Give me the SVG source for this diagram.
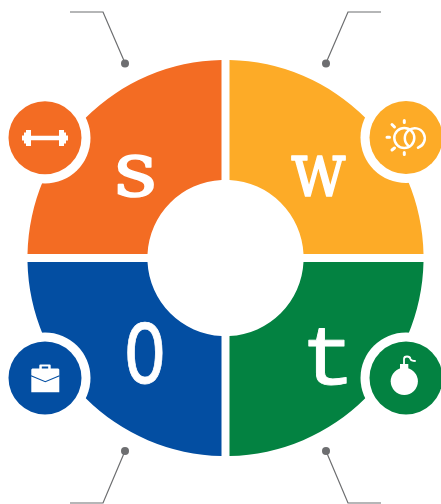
<svg xmlns="http://www.w3.org/2000/svg" width="441" height="504" viewBox="0 0 441 504">
<style>
.ring{fill:#fff}
.ln{fill:none;stroke:#6d6e70;stroke-width:1.2}
.dot{fill:#6d6e70}
.ic{fill:#fff}
.st{fill:none;stroke:#fff;stroke-linecap:round}
.let{fill:#fff;stroke:#fff;stroke-linejoin:round;text-anchor:middle}
.slab{font-family:"DejaVu Serif",serif}
.mono{font-family:"Liberation Mono","DejaVu Sans Mono",monospace}
</style>
<rect width="441" height="504" fill="#fff"/>
<g id="connectors">
<path class="ln" d="M70 12H103L125 63"/><circle class="dot" cx="125" cy="63.500" r="4"/>
<path class="ln" d="M381 12H348L326 63"/><circle class="dot" cx="326" cy="63.500" r="4"/>
<path class="ln" d="M70 503H103L125 451"/><circle class="dot" cx="125" cy="451" r="4"/>
<path class="ln" d="M381 503H348L326 451"/><circle class="dot" cx="326" cy="451" r="4"/>
</g>
<g id="node-s">
<path fill="#f36c23" d="M221.500 60A198 198 0 0 0 27.500 254H147.500A78 78 0 0 1 221.500 180Z"/>
<circle class="ring" cx="45" cy="138" r="45.500"/>
<circle fill="#f36c23" cx="45" cy="137.700" r="36.500"/>
<path class="ic" d="M22 135.500h2v-3h2v-2.500h5v5.800h28v-5.800h5v2.500h2v3h2v5h-2v3h-2v2.500h-5v-5.800H31v5.800h-5v-2.500h-2v-3h-2z"/>
<text class="let slab" transform="translate(135.500 196) scale(1.120 1)" font-size="76" stroke-width="1.500">s</text>
</g>
<g id="node-w">
<path fill="#fdab27" d="M229.500 60A198 198 0 0 1 423.500 254H303.500A78 78 0 0 0 229.500 180Z"/>
<circle class="ring" cx="406" cy="137.500" r="45.500"/>
<circle fill="#fdab27" cx="406" cy="137.500" r="36.500"/>
<circle class="st" cx="404.300" cy="138" r="10" stroke-width="2.500"/>
<path class="st" stroke-width="2.500" d="M408.500 146A10 10 0 1 1 418 147.700"/>
<path class="st" stroke-width="3" d="M404.300 120.500v2M404.300 152.500v2M387 137.300h2.500M392 124.500l2.500 2.500M392 150l2.500-2"/>
<text class="let slab" transform="translate(318.500 196) scale(.85 1)" font-size="76" stroke-width="1.500">w</text>
</g>
<g id="node-o">
<path fill="#034ea2" d="M221.500 456A198 198 0 0 1 27.500 262H147.500A78 78 0 0 0 221.500 336Z"/>
<circle class="ring" cx="45" cy="378" r="45.500"/>
<circle fill="#034ea2" cx="45" cy="378" r="36.500"/>
<path class="ic" fill-rule="evenodd" d="M39.300 368.500v-3a1 1 0 0 1 1-1h9.400a1 1 0 0 1 1 1v3h7.600l1 1v22.800H31.300V369.500l1-1zM41.800 368.500h6.400v-2h-6.400z"/>
<path fill="none" stroke="#034ea2" stroke-width="1.200" d="M31 375.700L45.300 381.700 59.500 375.700"/>
<text class="let mono" transform="translate(145 383) scale(.82 1.080)" font-size="84" stroke-width="0.800">O</text>
</g>
<g id="node-t">
<path fill="#038241" d="M229.500 456A198 198 0 0 0 423.500 262H303.500A78 78 0 0 1 229.500 336Z"/>
<circle class="ring" cx="406" cy="378" r="45.500"/>
<circle fill="#038241" cx="406" cy="378" r="36.500"/>
<circle class="ic" cx="404.300" cy="381.300" r="13.600"/>
<rect class="ic" x="400" y="364" width="8.300" height="6"/>
<path fill="none" stroke="#fff" stroke-width="1.800" d="M404 365V359Q404 356.500 407 356.500Q410 356.500 410.500 359Q411 361 415.700 361"/>
<text class="let mono" transform="translate(328 384) scale(1.100 1)" font-size="84" stroke-width="0.800">t</text>
</g>
</svg>
